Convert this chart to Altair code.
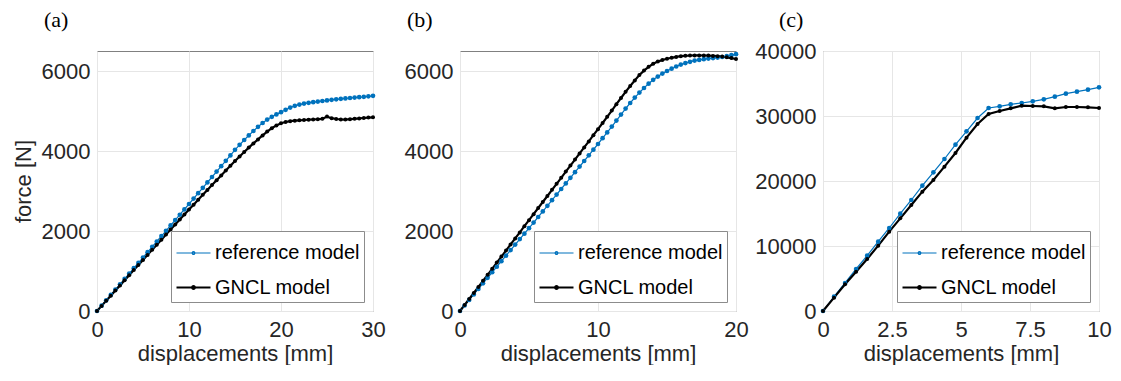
import altair as alt
import pandas as pd

SERIES = ["reference model", "GNCL model"]
COLORS = ["#0072BD", "#000000"]

# ---------------- panel (a) ----------------
a_x = [i * 0.5 for i in range(61)]
a_ref = [0, 134, 267, 401, 535, 668, 802, 935, 1070, 1203,
         1337, 1470, 1605, 1738, 1872, 2005, 2140, 2273, 2407, 2540,
         2675, 2810, 2945, 3080, 3215, 3350, 3485, 3620, 3755, 3890,
         4030, 4155, 4275, 4390, 4500, 4605, 4700, 4785, 4855, 4915,
         4970, 5030, 5085, 5130, 5160, 5185, 5205, 5220, 5235, 5250,
         5265, 5280, 5292, 5305, 5315, 5325, 5335, 5345, 5355, 5368,
         5380]
a_gncl = [0, 128, 256, 384, 512, 640, 768, 895, 1022, 1150,
          1277, 1403, 1530, 1657, 1783, 1910, 2035, 2160, 2285, 2410,
          2535, 2658, 2781, 2904, 3026, 3148, 3270, 3390, 3510, 3630,
          3748, 3863, 3975, 4085, 4190, 4290, 4390, 4485, 4570, 4640,
          4695, 4725, 4745, 4758, 4768, 4775, 4782, 4788, 4795, 4805,
          4860, 4820, 4800, 4790, 4785, 4795, 4805, 4815, 4825, 4835,
          4842]

# ---------------- panel (b) ----------------
b_x = [i / 3 for i in range(61)]
b_ref = [0, 138, 277, 415, 553, 692, 830, 968, 1107, 1245,
         1383, 1522, 1660, 1797, 1933, 2070, 2210, 2350, 2490, 2630,
         2770, 2910, 3050, 3190, 3330, 3470, 3610, 3750, 3892, 4033,
         4175, 4320, 4465, 4610, 4760, 4910, 5060, 5200, 5335, 5460,
         5575, 5683, 5780, 5860, 5935, 6000, 6058, 6112, 6160, 6197,
         6230, 6260, 6278, 6295, 6310, 6322, 6336, 6350, 6370, 6395,
         6420]
b_gncl = [0, 150, 300, 450, 600, 755, 905, 1055, 1210, 1360,
          1510, 1665, 1815, 1965, 2120, 2270, 2420, 2575, 2725, 2875,
          3030, 3180, 3330, 3485, 3635, 3785, 3940, 4090, 4240, 4395,
          4545, 4700, 4855, 5010, 5170, 5325, 5480, 5625, 5765, 5900,
          6010, 6105, 6180, 6235, 6275, 6305, 6330, 6352, 6370, 6380,
          6387, 6390, 6390, 6388, 6385, 6378, 6370, 6360, 6342, 6322,
          6300]

# ---------------- panel (c) ----------------
c_x = [i * 0.4 for i in range(26)]
c_ref = [0, 2205, 4308, 6462, 8513, 10667, 12769, 14974, 17077, 19282,
         21338, 23385, 25590, 27640, 29692, 31231, 31487, 31795, 32000, 32256,
         32564, 32974, 33436, 33744, 34051, 34410]
c_gncl = [0, 2051, 4103, 6051, 8000, 10051, 12205, 14256, 16308, 18359,
          20154, 22205, 24308, 26667, 28769, 30308, 30769, 31180, 31590, 31538,
          31487, 31180, 31385, 31385, 31333, 31231]

FONT = "Liberation Sans"
TXT = "#262626"
LEG_PATH = ("M-1,0H1M0.08,0A0.08,0.08,0,1,1,-0.08,0"
            "A0.08,0.08,0,1,1,0.08,0")
PT_SIZE = [22, 16]


def panel(xs, ref, gncl, xdom, xticks, ydom, yticks, label, ytitle, dx, toff):
    n = len(xs)
    df = pd.DataFrame({
        "x": list(xs) + list(xs),
        "y": list(ref) + list(gncl),
        "series": [SERIES[0]] * n + [SERIES[1]] * n,
    })
    xenc = alt.X("x:Q", scale=alt.Scale(domain=xdom, nice=False, zero=False),
                 axis=alt.Axis(values=xticks, labelExpr="toString(datum.value)",
                               title="displacements [mm]",
                               labelFlush=False, labelOverlap=False,
                               labelPadding=8, titlePadding=3))
    yaxis = dict(values=yticks, format="d", labelOverlap=False, labelPadding=7,
                 titlePadding=6)
    yaxis["title"] = ytitle if ytitle else None
    yenc = alt.Y("y:Q", scale=alt.Scale(domain=ydom, nice=False),
                 axis=alt.Axis(**yaxis))
    leg = alt.Legend(title=None, orient="bottom-right", offset=9, padding=4,
                     strokeColor="#8c8c8c", fillColor="white",
                     symbolType=LEG_PATH, symbolSize=1156,
                     labelFont=FONT, labelFontSize=20, labelColor="#000000",
                     rowPadding=6, labelOffset=3, cornerRadius=0,
                     symbolOpacity=1)
    color = alt.Color("series:N", scale=alt.Scale(domain=SERIES, range=COLORS),
                      legend=leg)
    sw = alt.StrokeWidth("series:N", scale=alt.Scale(domain=SERIES, range=[1.2, 2.2]),
                         legend=leg)
    base = alt.Chart(df)
    lines = base.mark_line().encode(x=xenc, y=yenc, color=color, strokeWidth=sw)
    layers = [lines]
    for s, c, sz in zip(SERIES, COLORS, PT_SIZE):
        layers.append(
            base.transform_filter(alt.datum.series == s).mark_circle(
                opacity=1, color=c, size=sz).encode(x="x:Q", y="y:Q")
        )
    return alt.layer(*layers).properties(
        width=276, height=260,
        title=alt.TitleParams(text=label, anchor="start", frame="group",
                              font="Liberation Serif",
                              fontSize=22, fontWeight="normal", color="#000000",
                              dx=dx, offset=toff),
    )


pa = panel(a_x, a_ref, a_gncl, [0, 30], [0, 10, 20, 30], [0, 6500],
           [0, 2000, 4000, 6000], "(a)", "force [N]", -53, 19)
pb = panel(b_x, b_ref, b_gncl, [0, 20], [0, 10, 20], [0, 6500],
           [0, 2000, 4000, 6000], "(b)", None, -53, 19)
pc = panel(c_x, c_ref, c_gncl, [0, 10], [0, 2.5, 5, 7.5, 10], [0, 40000],
           [0, 10000, 20000, 30000, 40000], "(c)", None, -44, 8)

chart = alt.hconcat(pa, pb, pc, spacing=87, bounds="flush").resolve_scale(
    x="independent", y="independent", color="independent", strokeWidth="independent"
).resolve_legend(color="independent", strokeWidth="independent").properties(
    padding={"left": 3, "top": 0, "right": 0, "bottom": 0},
    background="white",
).configure_view(
    stroke="#808080", strokeWidth=1
).configure_axis(
    grid=True, gridColor="#e6e6e6", gridWidth=1, domain=False, ticks=False,
    labelFont=FONT, labelFontSize=22, labelColor=TXT,
    titleFont=FONT, titleFontSize=22, titleFontWeight="normal", titleColor=TXT,
)

chart.save("out.html", embed_options={"renderer": "svg", "actions": False})
